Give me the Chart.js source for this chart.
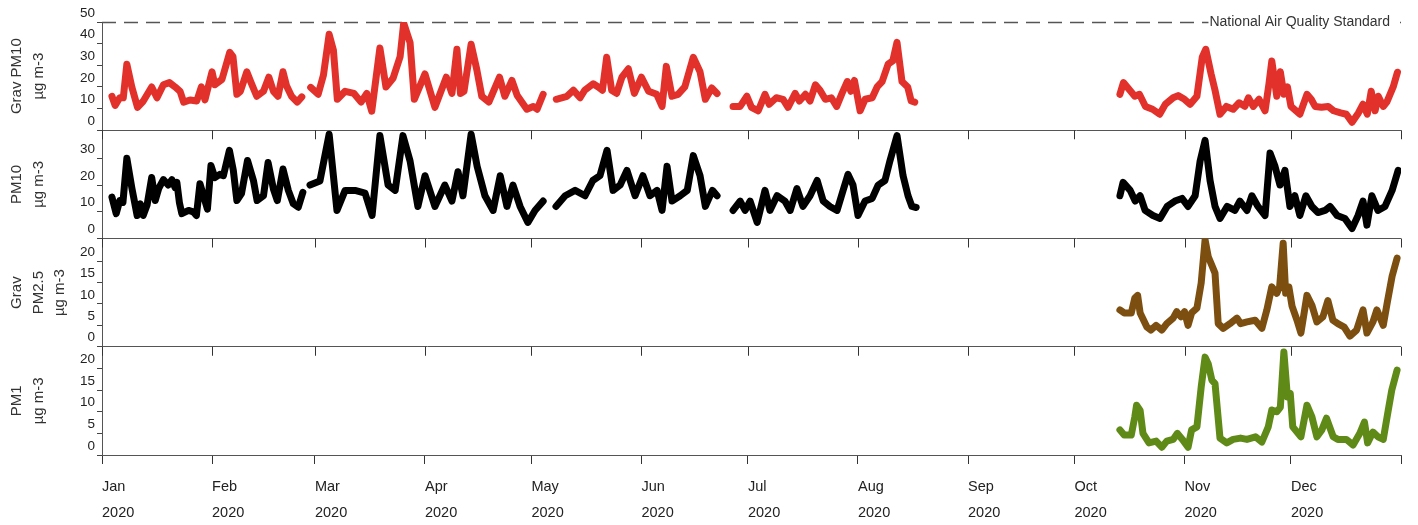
<!DOCTYPE html>
<html>
<head>
<meta charset="utf-8">
<script src="https://cdn.jsdelivr.net/npm/chart.js@4.4.1/dist/chart.umd.min.js"></script>
<style>
  html, body { margin: 0; padding: 0; background: #fff; }
  #wrap { width: 1418px; height: 525px; position: relative; }
</style>
</head>
<body>
<div id="wrap"><canvas id="airChart"></canvas></div>
<script>
// x positions are day of year 2020 (0 = 1 Jan), null marks a gap in the record
const monthStarts = [0, 31, 60, 91, 121, 152, 182, 213, 244, 274, 305, 335, 366];
const monthLabels = ['Jan', 'Feb', 'Mar', 'Apr', 'May', 'Jun', 'Jul', 'Aug', 'Sep', 'Oct', 'Nov', 'Dec', ''];
const yearLabel = '2020';
const standardLimit = 50;
const standardLabel = 'National Air Quality Standard';

// Grav PM10
const gravPm10Days = [2.8, 3.7, 5, 6, 7, 8.4, 10, 11.6, 14, 15.5, 17.3, 19, 20.6, 22, 23, 24.8, 26.7, 28, 29, 31, 31.8, 33.8, 36, 36.9, 38, 39, 40.8, 42, 43.6, 45.5, 47, 48.3, 49.6, 51, 52, 53.4, 55, 56.3,
  57.6,
  58.8, 60.9, 62.4, 64, 65.2, 66.3, 68.5, 71, 73, 74.6, 76, 78.3, 80, 82, 84, 85, 86.8, 88, 91, 93.8, 97, 98.6, 100, 101, 102, 104, 105.6, 107, 109, 112, 113.5, 115.5, 117, 119.7, 121.5, 122.6, 124.3,
  126,
  128, 131, 132.8, 134.7, 136, 138.4, 139.8, 141, 142.2, 143.6, 145, 146.5, 148.3, 150, 152, 154, 156.3, 157.8, 159, 160.6, 162.3, 164.2, 166.6, 168.5, 170, 171.8, 173.3,
  175.5,
  177.8, 179.8, 181.7, 183, 184.9, 186.8, 188, 190, 191.9, 193.3, 195.3, 196.5, 198.2, 199.5, 201, 202.3, 203.8, 205.5, 207, 208.5, 210, 211, 212, 213.6, 215, 217, 218.4, 219.8, 221.5, 222.8, 224, 225.4, 227, 228, 229,
  258,
  286.8, 287.8, 289.6, 291, 292.3, 294, 296, 298, 299.6, 301.8, 303.2, 305, 306.6, 308.5, 310, 311, 312.5, 313.6, 315, 316.8, 318.7, 320.4, 322, 323, 324.4, 326, 327.7, 328.8, 329.6, 331, 332, 333, 334, 335, 337.5, 339.5, 340.7, 341.8, 343.6, 345.5, 347, 349, 350.6, 352.2, 354, 355.3, 356.5, 357.6, 358.7, 359.6, 361, 362, 363.8, 365];
const gravPm10Values = [15.7, 11.5, 15, 15, 30.5, 20, 10.6, 13.4, 20, 15, 21, 22, 20, 18, 13, 14, 13.5, 20, 14, 27, 21, 23.5, 36, 34, 16.6, 18, 27, 22, 15.7, 18, 24.5, 18, 15.7, 27, 20.5, 15.7, 13, 15.4,
  null,
  19.8, 16.6, 25.5, 44.3, 37, 14.3, 18, 17, 13, 17, 8.8, 38, 20, 24, 34, 49.5, 40.5, 14.3, 26, 10.6, 24.5, 17, 37.4, 17, 18, 39.7, 28, 15.7, 13, 24.5, 15.7, 23, 16, 9.7, 11, 9.7, 16.6,
  null,
  14.3, 15.7, 18.5, 15, 18.5, 21.5, 20, 18.5, 33.7, 18.5, 17, 24.5, 28.4, 17, 24.5, 18, 16.6, 11, 29.5, 15.7, 16.6, 20, 33.7, 27, 14.3, 19.5, 17,
  null,
  11, 11, 15.7, 10.6, 9, 16.6, 12, 15, 14.3, 10.6, 17, 13.5, 16.6, 13.5, 21, 18.5, 14.3, 15, 11, 17, 22.5, 18, 23, 9, 14.3, 15, 20, 22.5, 30.5, 32, 40.6, 22.5, 20, 13.5, 13,
  null,
  16.6, 22, 18.5, 15.7, 16.6, 11, 9.7, 7.4, 12, 15, 16, 14.3, 12, 15.7, 33.7, 37.4, 26, 18.5, 7.4, 11, 9.7, 12.7, 11, 15, 11, 14.3, 9, 21.5, 32, 15.7, 27, 16.6, 20, 11, 7.4, 16.6, 14.3, 11, 10.6, 11, 9, 8, 7.4, 3.7, 8, 12, 7.4, 18, 9, 15.7, 11, 13, 20, 26.8];

// PM10
const pm10Days = [2.8, 4, 5, 5.9, 7, 8.4, 9.9, 10.8, 11.6, 12.7, 14, 15, 16, 17.3, 18.7, 19.7, 20.6, 21.1, 21.8, 22.5, 24.4, 25.7, 26.6, 27.6, 28.6, 29.7, 30.7, 31.8, 33.2, 34.2, 35.9, 37, 38, 39.3, 41, 42.7, 43.7, 45.5, 46.8, 48.3, 49.4, 51, 52.5, 53.9, 55.3, 56.6,
  57.6,
  58.6, 61.4, 64, 66.2, 68.5, 71.3, 74.1, 76.1, 78.3, 80.6, 82.6, 84.8, 86.8, 89, 91, 93.8, 96.6, 98.6, 100.3, 101.7, 104, 105.7, 107.9, 110.2, 112.2, 114.1, 115.8, 117.8, 120, 122, 124.3,
  126,
  127.9, 130.5, 133.3, 136.1, 138.3, 140.3, 142.3, 144, 146, 147.9, 150.2, 152.4, 154.4, 156.4, 157.8, 159.2, 160.6, 162.9, 164.9, 166.6, 168.5, 170, 172, 173.3,
  175.5,
  177.8, 179.8, 181.2, 182.6, 184.6, 186.8, 188.2, 190.2, 192.4, 193.9, 195.8, 197.5, 199.5, 201.5, 203.2, 205.1, 207.1, 208.8, 210.2, 211.6, 213, 215, 217, 218.7, 220.6, 222, 224, 225.7, 227.1, 228.2, 229.4,
  258,
  286.8, 287.7, 289.7, 291.1, 292.5, 293.9, 296.1, 298.1, 300.1, 302.3, 304.3, 306, 308, 309.4, 310.8, 312.2, 313.6, 315, 317, 319.2, 320.6, 322.6, 324, 325.7, 327.7, 329.1, 330.5, 331.9, 333.3, 334.7, 336.1, 337.5, 339.2, 340.9, 342.6, 344.6, 346, 348, 350.2, 352.2, 353.9, 355.3, 356.4, 357.8, 359.5, 361.5, 363.5, 365.2];
const pm10Values = [15.5, 9.3, 14.2, 13.5, 30, 19, 8.6, 13, 8.6, 12.5, 22.8, 14.2, 18.8, 22, 20, 22, 19, 21, 13.5, 9.3, 10.5, 10, 8.6, 20.5, 16, 11, 27.3, 22.8, 24, 23.5, 33, 25.5, 14.2, 16.8, 29.2, 21.5, 14.2, 16, 28.4, 18.5, 14.2, 26, 18, 13, 11.7, 17.3,
  null,
  20, 21.5, 39, 10.5, 18, 18, 17, 8.6, 38.5, 20, 18, 38.5, 29, 12, 23.5, 12, 20, 14, 25, 16, 39, 27, 16, 10.5, 23.5, 12, 20, 12, 6, 10.5, 14,
  null,
  12, 16, 18, 16, 21.7, 23.5, 33, 18, 20, 25.5, 16, 23.5, 16, 18, 10.5, 27, 14, 16, 18, 31, 23.5, 12, 18, 16,
  null,
  10.5, 14, 10.5, 14, 6, 18, 10.5, 16, 14, 10.5, 18.7, 12, 16, 21.7, 14, 12, 10.5, 18, 24, 20, 8.6, 14, 15, 20, 21.7, 29, 38.5, 23.5, 16, 12, 11.6,
  null,
  16, 21, 18, 14, 16, 10.5, 8.6, 7.5, 12, 14, 15, 12, 16, 29, 36.7, 21.7, 12, 7.5, 12, 10.5, 14, 10.5, 16, 12, 8.6, 32, 27, 20, 25.5, 12, 16, 8.6, 16, 12, 9.7, 10.5, 12, 8.6, 7.5, 3.7, 8.6, 14, 5, 16, 10.5, 12, 18, 25.5];

// Grav PM2.5
const gravPm25Days = [286.8, 288, 290, 291, 291.8, 292.5, 294.4, 295.5, 297, 298.6, 300, 301.8, 302.8, 304, 305, 306, 307, 308.5, 309.7, 310.8, 311.7, 312.7, 313.6, 314.5, 315.9, 317.8, 319.8, 320.8, 322.6, 324.9, 326.8, 328.2, 329.6, 331, 331.8, 332.8, 333.5, 334.4, 335.3, 336.7, 337.8, 339.5, 340.9, 342.3, 344, 345.4, 346.8, 348.2, 350, 351.6, 353.5, 355.3, 356.4, 358.1, 359.2, 361, 362.1, 363.5, 364.9];
const gravPm25Values = [8.6, 7.9, 7.9, 11.4, 12, 7.9, 4.6, 3.9, 5, 3.9, 5.4, 6.7, 8.2, 7, 8.2, 5, 7.9, 9, 14.9, 25, 21, 19, 17.2, 5.4, 4.3, 5.4, 6.7, 5.4, 5.8, 6.2, 4.3, 8.6, 14, 12.5, 14, 24.2, 12.5, 14, 9.5, 6.2, 3.2, 12, 9.7, 5.8, 7, 10.8, 6.2, 5.4, 4.6, 2.5, 3.9, 8.6, 3.2, 5.8, 8.6, 5, 10.2, 16.5, 20.7];

// PM1
const pm1Days = [286.8, 288, 290, 291, 291.5, 292.5, 293.3, 295, 297, 298.6, 300, 301.8, 303, 304.4, 306, 307, 308.5, 309.7, 310.8, 311.7, 312.7, 313.6, 315, 316.9, 318.7, 320.8, 322.6, 325, 326.8, 328.6, 329.6, 331, 332, 333, 334, 334.8, 335.5, 337.8, 339.5, 340.9, 342.3, 343.7, 345, 346.9, 348.2, 350.6, 352.5, 354.4, 355.7, 356.6, 358.1, 359.5, 361, 362.4, 363.4, 364.9];
const pm1Values = [5.8, 4.6, 4.6, 8.8, 11.5, 10.3, 5, 2.8, 3.2, 1.8, 3.2, 3.6, 5, 3.6, 1.8, 5.8, 6.5, 15.7, 22.6, 21, 17.3, 16.5, 3.9, 2.8, 3.6, 3.9, 3.6, 4.2, 3, 6.5, 10.4, 10, 11, 23.8, 13.4, 14.2, 6.5, 4.2, 11.5, 8.8, 4.2, 5.8, 8.5, 4.2, 3.6, 3.6, 2.3, 5, 7.6, 2.8, 5.3, 4.2, 3.6, 10.3, 15, 19.6];

// Build {x, y} points for a linear x axis
function toPoints(days, values) {
    return days.map((d, i) => ({ x: d, y: values[i] }));
}

// One stacked panel axis on the left
function panelAxis(title, max, step, lastTick) {
    return {
        type: 'linear',
        position: 'left',
        stack: 'panels',
        stackWeight: 1,
        min: 0,
        max: max,
        border: { display: true, color: '#555', width: 1 },
        grid: {
            color: ctx => (ctx.tick && ctx.tick.value === 0) ? '#555' : 'rgba(0,0,0,0)',
            tickColor: '#444',
            tickLength: 5,
            drawTicks: true
        },
        ticks: {
            stepSize: step,
            autoSkip: false,
            padding: 2,
            labelOffset: -9,
            color: '#222',
            font: { family: '"Liberation Sans", Arial, sans-serif', size: 13.5 }
        },
        title: {
            display: true,
            text: title,
            color: '#333',
            padding: { top: 6, bottom: 0 },
            font: { family: '"Liberation Sans", Arial, sans-serif', size: 15, lineHeight: '21.7px' }
        },
        afterBuildTicks: scale => {
            scale.ticks = scale.ticks.filter(t => t.value <= lastTick);
        },
        afterFit: scale => {
            scale.width = 102;
        }
    };
}

// Ticks on the panel borders, dashed standard line and its label
const panelDecor = {
    id: 'panelDecor',
    beforeDatasetsDraw(chart) {
        const ctx = chart.ctx;
        const area = chart.chartArea;
        const xScale = chart.scales.x;
        ctx.save();
        ctx.strokeStyle = '#333';
        ctx.lineWidth = 1;
        ['yGravPm10', 'yPm10', 'yGravPm25'].forEach(id => {
            const s = chart.scales[id];
            xScale.ticks.forEach(t => {
                const px = Math.round(xScale.getPixelForValue(t.value)) + 0.5;
                ctx.beginPath();
                ctx.moveTo(px, s.bottom);
                ctx.lineTo(px, s.bottom + 9);
                ctx.stroke();
            });
        });

        const py = Math.round(chart.scales.yGravPm10.getPixelForValue(standardLimit)) + 0.5;
        ctx.strokeStyle = '#555';
        ctx.lineWidth = 1.4;
        ctx.setLineDash([14, 8]);
        ctx.beginPath();
        ctx.moveTo(area.left, py);
        ctx.lineTo(area.right, py);
        ctx.stroke();
        ctx.setLineDash([]);

        ctx.font = '14px "Liberation Sans", Arial, sans-serif';
        const w = ctx.measureText(standardLabel).width;
        const tx = area.right - 11;
        ctx.fillStyle = '#fff';
        ctx.fillRect(tx - w - 1, py - 8, w + 3, 16);
        ctx.fillStyle = '#333';
        ctx.textAlign = 'right';
        ctx.textBaseline = 'middle';
        ctx.fillText(standardLabel, tx, py);
        ctx.restore();
    }
};

document.addEventListener('DOMContentLoaded', () => {
    const ctx = document.querySelector('#airChart').getContext('2d');

    const lineStyle = {
        borderWidth: 7,
        pointRadius: 0,
        borderCapStyle: 'round',
        borderJoinStyle: 'round',
        tension: 0,
        spanGaps: false
    };

    const airChart = new Chart(ctx, {
        type: 'line',
        data: {
            datasets: [
                { ...lineStyle, label: 'PM1', data: toPoints(pm1Days, pm1Values), borderColor: '#5f8a17', yAxisID: 'yPm1' },
                { ...lineStyle, label: 'Grav PM2.5', data: toPoints(gravPm25Days, gravPm25Values), borderColor: '#7c4f10', yAxisID: 'yGravPm25' },
                { ...lineStyle, label: 'PM10', data: toPoints(pm10Days, pm10Values), borderColor: '#000000', yAxisID: 'yPm10' },
                { ...lineStyle, label: 'Grav PM10', data: toPoints(gravPm10Days, gravPm10Values), borderColor: '#e2312b', yAxisID: 'yGravPm10' }
            ]
        },
        options: {
            responsive: true,
            maintainAspectRatio: false,
            animation: false,
            devicePixelRatio: 1,
            layout: { padding: { top: 22, right: 17, bottom: 0, left: 0 } },
            plugins: {
                legend: { display: false },
                tooltip: { enabled: false }
            },
            scales: {
                x: {
                    type: 'linear',
                    position: 'bottom',
                    min: 0,
                    max: 366,
                    border: { display: true, color: '#555', width: 1 },
                    grid: { drawOnChartArea: false, drawTicks: true, tickLength: 9, tickColor: '#333' },
                    ticks: {
                        autoSkip: false,
                        maxRotation: 0,
                        align: 'start',
                        padding: 10,
                        color: '#222',
                        font: { family: '"Liberation Sans", Arial, sans-serif', size: 14.5, lineHeight: '26px' },
                        callback: (value, index) => monthLabels[index] ? [monthLabels[index], yearLabel] : ''
                    },
                    afterBuildTicks: scale => {
                        scale.ticks = monthStarts.map(v => ({ value: v }));
                    },
                    afterFit: scale => {
                        scale.height = 70;
                    }
                },
                yPm1: panelAxis(['PM1', 'µg m-3'], 25, 5, 20),
                yGravPm25: panelAxis(['Grav', 'PM2.5', 'µg m-3'], 25.3, 5, 20),
                yPm10: panelAxis(['PM10', 'µg m-3'], 40.5, 10, 30),
                yGravPm10: panelAxis(['Grav PM10', 'µg m-3'], 50, 10, 50)
            }
        },
        plugins: [panelDecor]
    });
});
</script>
</body>
</html>
